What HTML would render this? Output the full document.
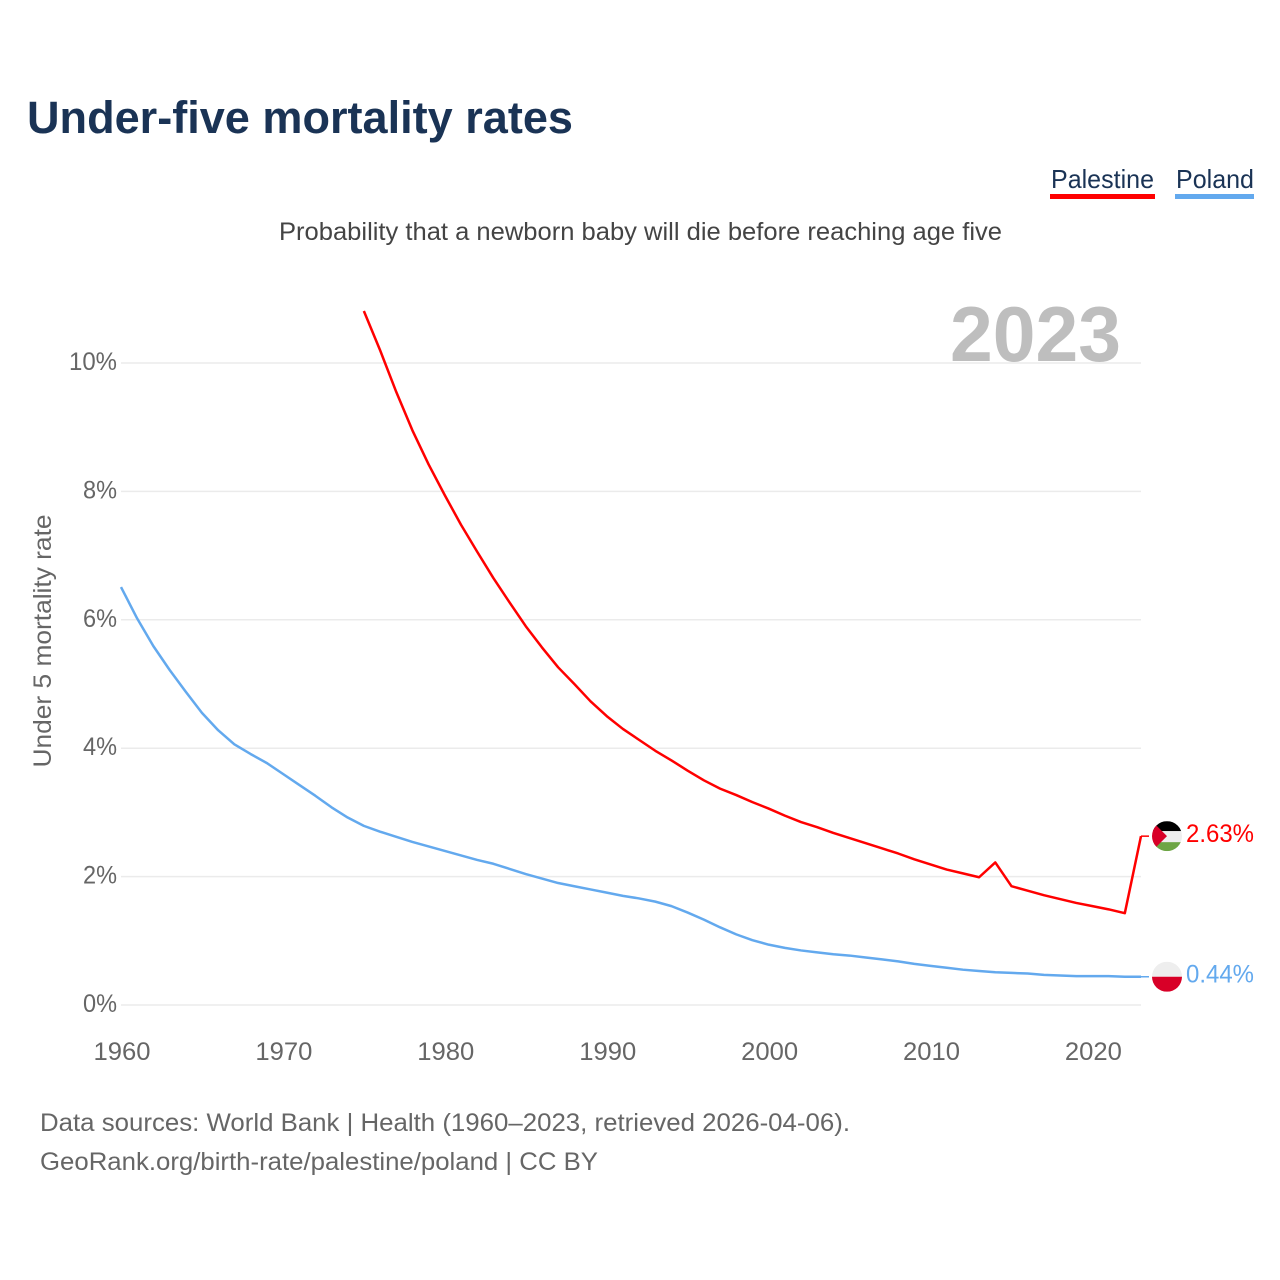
<!DOCTYPE html>
<html lang="en">
<head>
<meta charset="utf-8">
<title>Under-five mortality rates</title>
<style>
html,body{margin:0;padding:0;background:#fff;}
svg{display:block;font-family:"Liberation Sans",sans-serif;}
</style>
</head>
<body>
<svg id="chart" xmlns="http://www.w3.org/2000/svg" width="1280" height="1280" viewBox="0 0 1280 1280">
  <defs>
    <clipPath id="flag-clip-ps"><circle id="clip-ps" cx="1167" cy="835" r="15"/></clipPath>
    <clipPath id="flag-clip-pl"><circle id="clip-pl" cx="1167" cy="976" r="15"/></clipPath>
  </defs>
  <rect width="1280" height="1280" fill="#fff"/>
  <text x="27" y="133" font-size="45" font-weight="700" fill="#1a3355" textLength="546" lengthAdjust="spacingAndGlyphs">Under-five mortality rates</text>
  <text x="1051" y="188" font-size="26" fill="#1a3355" textLength="103" lengthAdjust="spacingAndGlyphs">Palestine</text>
  <rect x="1050" y="194" width="105" height="5" fill="#ff0000"/>
  <text x="1176" y="188" font-size="26" fill="#1a3355" textLength="78" lengthAdjust="spacingAndGlyphs">Poland</text>
  <rect x="1175" y="194" width="79" height="5" fill="#63a9ee"/>
  <text x="279" y="240" font-size="25" fill="#444444" textLength="723" lengthAdjust="spacingAndGlyphs">Probability that a newborn baby will die before reaching age five</text>
  <g id="grid"></g>
  <text x="950" y="361" font-size="78" font-weight="700" fill="#bebebe" textLength="171" lengthAdjust="spacingAndGlyphs">2023</text>
  <g id="yticks"></g>
  <g id="xticks"></g>
  <text transform="translate(51,641) rotate(-90)" text-anchor="middle" font-size="25" fill="#666666" textLength="253" lengthAdjust="spacingAndGlyphs">Under 5 mortality rate</text>
  <g id="series"></g>
  <g id="flag-ps" clip-path="url(#flag-clip-ps)">
    <g id="flag-ps-inner">
      <rect x="1152" y="820" width="30" height="10" fill="#000000"/>
      <rect x="1152" y="830" width="30" height="11" fill="#eeeeee"/>
      <rect x="1152" y="841" width="30" height="9" fill="#6da544"/>
      <polygon points="1152,820 1167,835 1152,850" fill="#d80027"/>
    </g>
  </g>
  <g id="flag-pl" clip-path="url(#flag-clip-pl)">
    <g id="flag-pl-inner">
      <rect x="1152" y="961" width="30" height="15" fill="#eeeeee"/>
      <rect x="1152" y="976" width="30" height="15" fill="#d80027"/>
    </g>
  </g>
  <text id="val-ps" x="1186" font-size="25" fill="#ff0000" textLength="68" lengthAdjust="spacingAndGlyphs"></text>
  <text id="val-pl" x="1186" font-size="25" fill="#63a9ee" textLength="68" lengthAdjust="spacingAndGlyphs"></text>
  <text x="40" y="1131" font-size="25" fill="#666666" textLength="810" lengthAdjust="spacingAndGlyphs">Data sources: World Bank | Health (1960–2023, retrieved 2026-04-06).</text>
  <text x="40" y="1170" font-size="25" fill="#666666" textLength="558" lengthAdjust="spacingAndGlyphs">GeoRank.org/birth-rate/palestine/poland | CC BY</text>
</svg>
<script>
const years = [1960,1961,1962,1963,1964,1965,1966,1967,1968,1969,1970,1971,1972,1973,1974,1975,1976,1977,1978,1979,1980,1981,1982,1983,1984,1985,1986,1987,1988,1989,1990,1991,1992,1993,1994,1995,1996,1997,1998,1999,2000,2001,2002,2003,2004,2005,2006,2007,2008,2009,2010,2011,2012,2013,2014,2015,2016,2017,2018,2019,2020,2021,2022,2023];
const polandValues = [6.51,6.02,5.59,5.22,4.88,4.55,4.28,4.06,3.91,3.77,3.60,3.43,3.26,3.08,2.92,2.79,2.70,2.62,2.54,2.47,2.40,2.33,2.26,2.20,2.12,2.04,1.97,1.90,1.85,1.80,1.75,1.70,1.66,1.61,1.54,1.44,1.33,1.21,1.10,1.01,0.94,0.89,0.85,0.82,0.79,0.77,0.74,0.71,0.68,0.64,0.61,0.58,0.55,0.53,0.51,0.50,0.49,0.47,0.46,0.45,0.45,0.45,0.44,0.44];
const palestineValues = [null,null,null,null,null,null,null,null,null,null,null,null,null,null,null,10.81,10.20,9.55,8.95,8.42,7.94,7.48,7.06,6.65,6.27,5.90,5.57,5.26,5.00,4.73,4.50,4.30,4.13,3.96,3.81,3.65,3.50,3.37,3.27,3.16,3.06,2.95,2.85,2.77,2.68,2.60,2.52,2.44,2.36,2.27,2.19,2.11,2.05,1.99,2.22,1.85,1.78,1.71,1.65,1.59,1.54,1.49,1.43,2.63];
const yTickValues = [0,2,4,6,8,10];
const yTickLabels = ["0%","2%","4%","6%","8%","10%"];
const xTickValues = [1960,1970,1980,1990,2000,2010,2020];
const xTickLabels = ["1960","1970","1980","1990","2000","2010","2020"];

const NS = "http://www.w3.org/2000/svg";
const xMin = 1960, xMax = 2023, yMin = 0, yMax = 10;
const plotLeft = 121, plotRight = 1141, plotBottom = 1005, plotTop = 363;
function xScale(v) { return plotLeft + (v - xMin) / (xMax - xMin) * (plotRight - plotLeft); }
function yScale(v) { return plotBottom - (v - yMin) / (yMax - yMin) * (plotBottom - plotTop); }
function make(tag, attrs, parent) {
  const el = document.createElementNS(NS, tag);
  for (const k in attrs) el.setAttribute(k, attrs[k]);
  parent.appendChild(el);
  return el;
}

const grid = document.getElementById("grid");
const yticks = document.getElementById("yticks");
const xticks = document.getElementById("xticks");
const series = document.getElementById("series");

yTickValues.forEach(function (v, i) {
  const line = make("line", {x1: plotLeft, x2: plotRight, y1: yScale(v), y2: yScale(v), stroke: "#ebebeb", "stroke-width": 1.5}, grid);
  
  
  const label = make("text", {x: 117, y: yScale(v) + 7, "text-anchor": "end", "font-size": 25, fill: "#666666", textLength: yTickLabels[i].length === 3 ? 48 : 34, lengthAdjust: "spacingAndGlyphs"}, yticks);
  
  
  label.textContent = yTickLabels[i];
});

xTickValues.forEach(function (v, i) {
  const label = make("text", {x: xScale(v) + 1, y: 1060, "text-anchor": "middle", "font-size": 25, fill: "#666666", textLength: 57, lengthAdjust: "spacingAndGlyphs"}, xticks);
  
  
  label.textContent = xTickLabels[i];
});

function linePath(values) {
  const parts = [];
  values.forEach(function (v, i) {
    if (v === null) return;
    parts.push(xScale(years[i]).toFixed(2) + "," + yScale(v).toFixed(2));
  });
  return "M" + parts.join("L");
}

const polandLine = make("path", {d: linePath(polandValues), fill: "none", stroke: "#63a9ee", "stroke-width": 2.5, "stroke-linejoin": "round"}, series);



const palestineLine = make("path", {d: linePath(palestineValues), fill: "none", stroke: "#ff0000", "stroke-width": 2.5, "stroke-linejoin": "round"}, series);



const lastPs = palestineValues[palestineValues.length - 1];
const lastPl = polandValues[polandValues.length - 1];

const leaderPs = make("line", {x1: plotRight, x2: 1149, y1: yScale(lastPs), y2: yScale(lastPs), stroke: "#ff0000", "stroke-width": 1.5}, series);



const leaderPl = make("line", {x1: plotRight, x2: 1149, y1: yScale(lastPl), y2: yScale(lastPl), stroke: "#63a9ee", "stroke-width": 1.5}, series);



document.getElementById("flag-ps-inner").setAttribute("transform", "translate(0," + (yScale(lastPs) - 835) + ")");
document.getElementById("clip-ps").setAttribute("cy", yScale(lastPs));
document.getElementById("flag-pl-inner").setAttribute("transform", "translate(0," + (yScale(lastPl) - 976) + ")");
document.getElementById("clip-pl").setAttribute("cy", yScale(lastPl));

const valPs = document.getElementById("val-ps");
valPs.setAttribute("y", yScale(lastPs) + 6);
valPs.textContent = lastPs.toFixed(2) + "%";
const valPl = document.getElementById("val-pl");
valPl.setAttribute("y", yScale(lastPl) + 5.5);
valPl.textContent = lastPl.toFixed(2) + "%";
</script>
</body>
</html>
